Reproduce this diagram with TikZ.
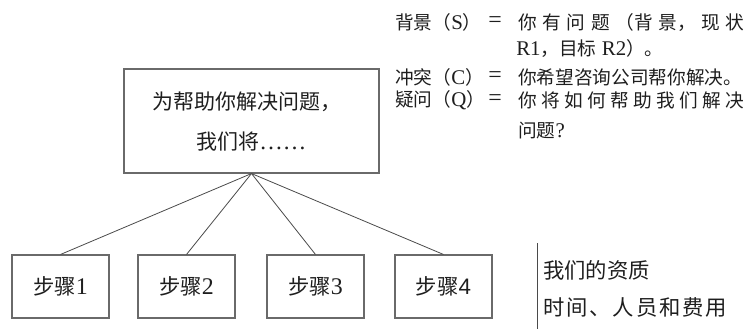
\documentclass[tikz,border=0pt]{standalone}
\usepackage{fontspec}
\setmainfont{Noto Sans CJK SC}
\newfontfamily\lt[Scale=1.12]{Liberation Serif}
\newfontfamily\ls[Scale=1.05]{Liberation Sans}
\definecolor{boxc}{HTML}{6A6A6A}
\definecolor{linec}{HTML}{4A4A4A}
\definecolor{txtc}{HTML}{1E1E1E}
\begin{document}
\begin{tikzpicture}[x=0.75pt,y=-0.75pt,
  box/.style={draw=boxc, line width=0.8pt, inner sep=0pt},
  link/.style={draw=linec, line width=0.6pt},
  txt/.style={text=txtc, inner sep=0pt, font=\fontsize{15.75pt}{20pt}\selectfont},
  steptxt/.style={text=txtc, inner sep=0pt, font=\fontsize{16pt}{20pt}\selectfont},
  rtxt/.style={text=txtc, inner sep=0pt, anchor=west, font=\fontsize{16pt}{20pt}\selectfont},
  qtxt/.style={text=txtc, inner sep=0pt, anchor=west, font=\fontsize{14pt}{16pt}\selectfont},
  eqtxt/.style={text=txtc, inner sep=0pt, font=\fontsize{16pt}{18pt}\selectfont\lt}]
\useasboundingbox (0,0) rectangle (744,329);
% top box
\node[box, minimum width=191.25pt, minimum height=78pt] (top) at (251.5,121) {};
\node[txt] (t1) at (246.5,102) {为帮助你解决问题，};
\node[txt] (t2) at (251.5,142) {我们将{\lt ……}};
% step boxes
\node[box, steptxt, minimum width=72.75pt, minimum height=47.25pt] (s1) at (60.5,286.5) {步骤{\lt 1}};
\node[box, steptxt, minimum width=72.75pt, minimum height=47.25pt] (s2) at (186.5,286.5) {步骤{\lt 2}};
\node[box, steptxt, minimum width=72.75pt, minimum height=47.25pt] (s3) at (315.5,286.5) {步骤{\lt 3}};
\node[box, steptxt, minimum width=72.75pt, minimum height=47.25pt] (s4) at (443.5,286.5) {步骤{\ls 4}};
\draw[link] (top.south) -- (s1.north);
\draw[link] (top.south) -- (s2.north);
\draw[link] (top.south) -- (s3.north);
\draw[link] (top.south) -- (s4.north);
% right separator and notes
\coordinate (v1) at (537,243);
\coordinate (v2) at (537,329);
\draw[link] (v1) -- (v2);
\node[rtxt] (r1) at (543,270) {我们的资质};
\node[rtxt] (r2) at (543,307) {\makebox[138pt][s]{时\hfill 间\hfill 、\hfill 人\hfill 员\hfill 和\hfill 费\hfill 用}};
% SCQ text
\node[qtxt] (l1) at (395,22.5) {背景（{\lt S}）};
\node[eqtxt] (e1) at (495,22.5) {=};
\node[qtxt] (c1) at (518,22.5) {\makebox[169.5pt][s]{你\hfill 有\hfill 问\hfill 题\hfill （背\hfill 景，\hfill 现\hfill 状}};
\node[qtxt] (c2) at (516,49) {{\lt R1}，目标{\lt\ R2}）。};
\node[qtxt] (l3) at (395,77.5) {冲突（{\lt C}）};
\node[eqtxt] (e3) at (495,77.5) {=};
\node[qtxt] (c3) at (518,77.5) {你希望咨询公司帮你解决。};
\node[qtxt] (l4) at (395,100) {疑问（{\lt Q}）};
\node[eqtxt] (e4) at (495,100) {=};
\node[qtxt] (c4) at (518,100) {\makebox[169.5pt][s]{你\hfill 将\hfill 如\hfill 何\hfill 帮\hfill 助\hfill 我\hfill 们\hfill 解\hfill 决}};
\node[qtxt] (c5) at (518,131) {问题{\lt ?}};
\end{tikzpicture}
\end{document}
